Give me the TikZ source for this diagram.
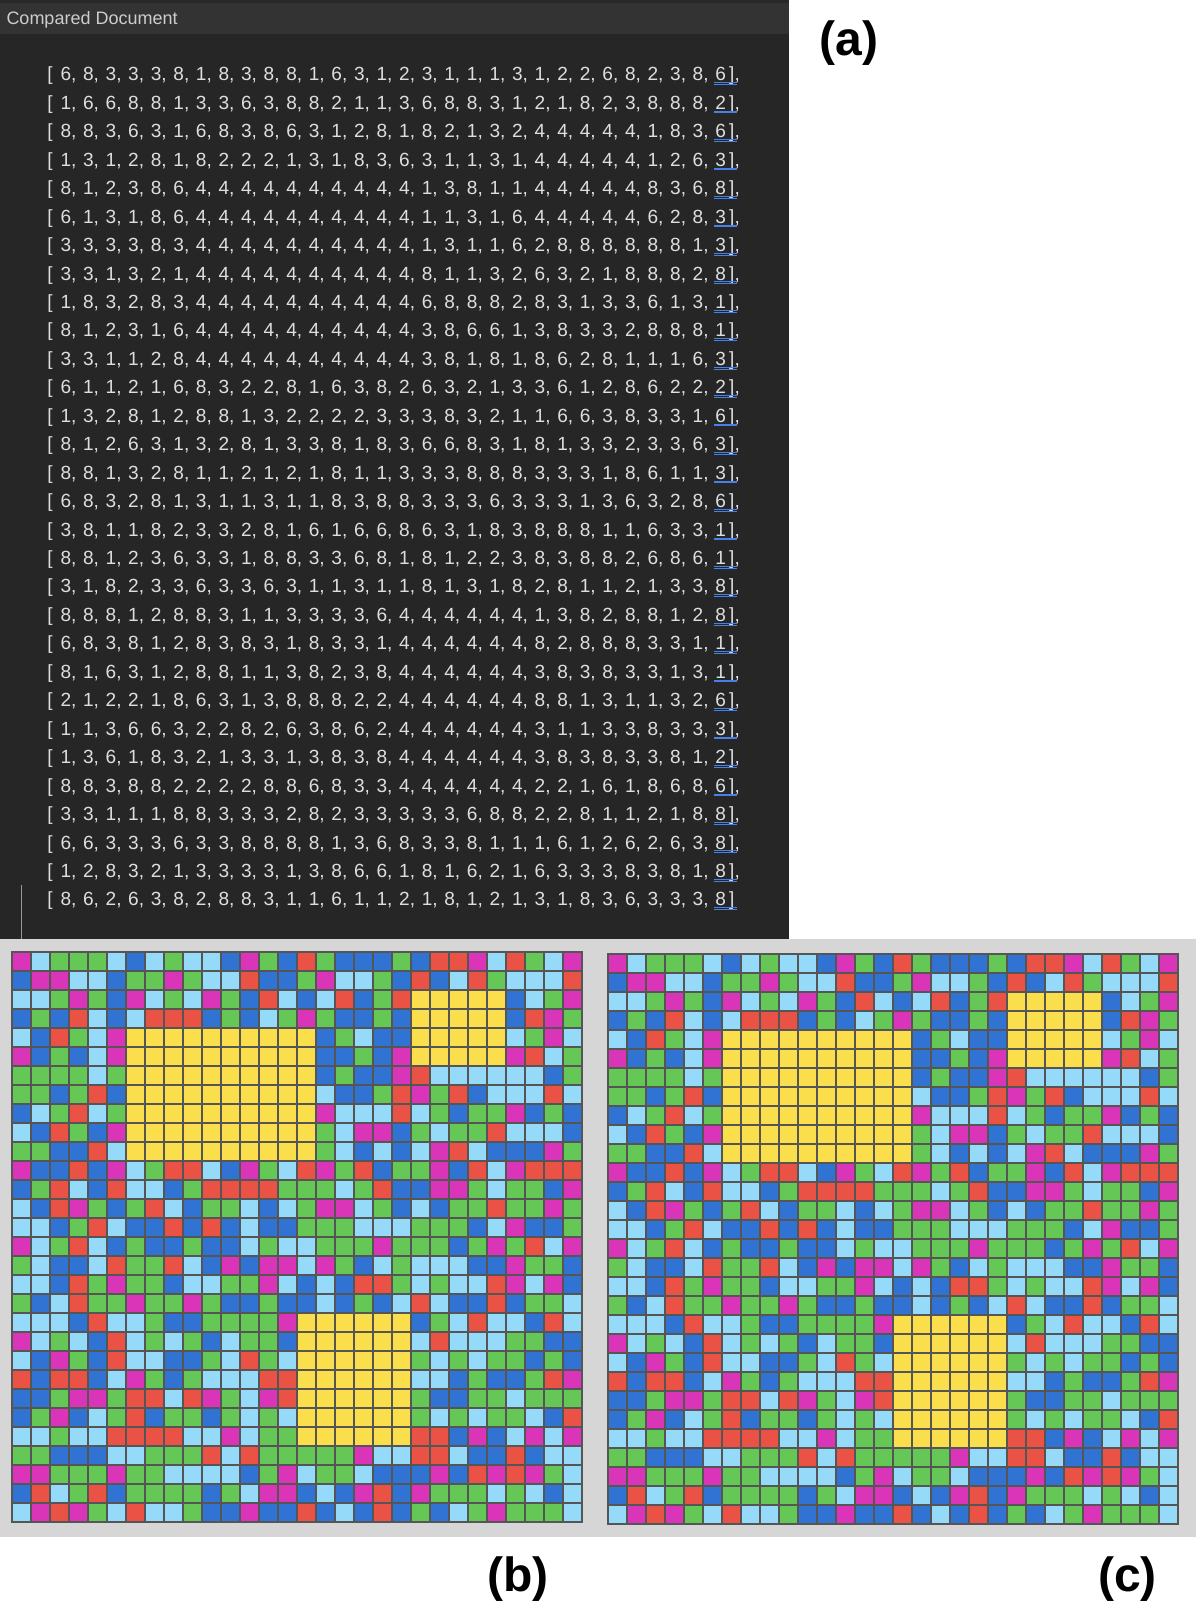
\documentclass[tikz,border=0pt]{standalone}
\usepackage{fontspec}
\setmainfont{Liberation Sans}
\definecolor{c1}{RGB}{49,115,211}
\definecolor{c2}{RGB}{234,82,69}
\definecolor{c3}{RGB}{100,199,86}
\definecolor{c4}{RGB}{250,222,76}
\definecolor{c6}{RGB}{218,52,184}
\definecolor{c8}{RGB}{150,218,250}
\definecolor{panelbody}{RGB}{38,38,38}
\definecolor{panelhead}{RGB}{51,51,51}
\definecolor{paneltop}{RGB}{40,40,40}
\definecolor{bggray}{RGB}{214,214,214}
\definecolor{gridln}{RGB}{85,85,85}
\definecolor{txtcol}{RGB}{222,222,222}
\definecolor{hdrcol}{RGB}{205,205,205}
\definecolor{ulcol}{RGB}{70,130,230}
\def\M{{6,8,3,3,3,8,1,8,3,8,8,1,6,3,1,2,3,1,1,1,3,1,2,2,6,8,2,3,8,6},%
{1,6,6,8,8,1,3,3,6,3,8,8,2,1,1,3,6,8,8,3,1,2,1,8,2,3,8,8,8,2},%
{8,8,3,6,3,1,6,8,3,8,6,3,1,2,8,1,8,2,1,3,2,4,4,4,4,4,1,8,3,6},%
{1,3,1,2,8,1,8,2,2,2,1,3,1,8,3,6,3,1,1,3,1,4,4,4,4,4,1,2,6,3},%
{8,1,2,3,8,6,4,4,4,4,4,4,4,4,4,4,1,3,8,1,1,4,4,4,4,4,8,3,6,8},%
{6,1,3,1,8,6,4,4,4,4,4,4,4,4,4,4,1,1,3,1,6,4,4,4,4,4,6,2,8,3},%
{3,3,3,3,8,3,4,4,4,4,4,4,4,4,4,4,1,3,1,1,6,2,8,8,8,8,8,8,1,3},%
{3,3,1,3,2,1,4,4,4,4,4,4,4,4,4,4,8,1,1,3,2,6,3,2,1,8,8,8,2,8},%
{1,8,3,2,8,3,4,4,4,4,4,4,4,4,4,4,6,8,8,8,2,8,3,1,3,3,6,1,3,1},%
{8,1,2,3,1,6,4,4,4,4,4,4,4,4,4,4,3,8,6,6,1,3,8,3,3,2,8,8,8,1},%
{3,3,1,1,2,8,4,4,4,4,4,4,4,4,4,4,3,8,1,8,1,8,6,2,8,1,1,1,6,3},%
{6,1,1,2,1,6,8,3,2,2,8,1,6,3,8,2,6,3,2,1,3,3,6,1,2,8,6,2,2,2},%
{1,3,2,8,1,2,8,8,1,3,2,2,2,2,3,3,3,8,3,2,1,1,6,6,3,8,3,3,1,6},%
{8,1,2,6,3,1,3,2,8,1,3,3,8,1,8,3,6,6,8,3,1,8,1,3,3,2,3,3,6,3},%
{8,8,1,3,2,8,1,1,2,1,2,1,8,1,1,3,3,3,8,8,8,3,3,3,1,8,6,1,1,3},%
{6,8,3,2,8,1,3,1,1,3,1,1,8,3,8,8,3,3,3,6,3,3,3,1,3,6,3,2,8,6},%
{3,8,1,1,8,2,3,3,2,8,1,6,1,6,6,8,6,3,1,8,3,8,8,8,1,1,6,3,3,1},%
{8,8,1,2,3,6,3,3,1,8,8,3,3,6,8,1,8,1,2,2,3,8,3,8,8,2,6,8,6,1},%
{3,1,8,2,3,3,6,3,3,6,3,1,1,3,1,1,8,1,3,1,8,2,8,1,1,2,1,3,3,8},%
{8,8,8,1,2,8,8,3,1,1,3,3,3,3,6,4,4,4,4,4,4,1,3,8,2,8,8,1,2,8},%
{6,8,3,8,1,2,8,3,8,3,1,8,3,3,1,4,4,4,4,4,4,8,2,8,8,8,3,3,1,1},%
{8,1,6,3,1,2,8,8,1,1,3,8,2,3,8,4,4,4,4,4,4,3,8,3,8,3,3,1,3,1},%
{2,1,2,2,1,8,6,3,1,3,8,8,8,2,2,4,4,4,4,4,4,8,8,1,3,1,1,3,2,6},%
{1,1,3,6,6,3,2,2,8,2,6,3,8,6,2,4,4,4,4,4,4,3,1,1,3,3,8,3,3,3},%
{1,3,6,1,8,3,2,1,3,3,1,3,8,3,8,4,4,4,4,4,4,3,8,3,8,3,3,8,1,2},%
{8,8,3,8,8,2,2,2,2,8,8,6,8,3,3,4,4,4,4,4,4,2,2,1,6,1,8,6,8,6},%
{3,3,1,1,1,8,8,3,3,3,2,8,2,3,3,3,3,3,6,8,8,2,2,8,1,1,2,1,8,8},%
{6,6,3,3,3,6,3,3,8,8,8,8,1,3,6,8,3,3,8,1,1,1,6,1,2,6,2,6,3,8},%
{1,2,8,3,2,1,3,3,3,3,1,3,8,6,6,1,8,1,6,2,1,6,3,3,3,8,3,8,1,8},%
{8,6,2,6,3,8,2,8,8,3,1,1,6,1,1,2,1,8,1,2,1,3,1,8,3,6,3,3,3,8}}
\begin{document}
\begin{tikzpicture}[x=0.75pt,y=-0.75pt,
  cellline/.style={draw=gridln,line width=0.85pt},
  numtxt/.style={inner sep=0pt,outer sep=0pt,anchor=base west,text=txtcol,
    font=\fontsize{14.3}{17}\selectfont},
  hdrtxt/.style={inner sep=0pt,outer sep=0pt,anchor=base west,text=hdrcol,
    font=\fontsize{13.5}{16}\selectfont},
  lbl/.style={inner sep=0pt,outer sep=0pt,anchor=center,text=black,
    font=\fontsize{36}{40}\selectfont\bfseries},
  uline/.style={draw=ulcol,line width=0.65pt},
  cursorln/.style={draw=gray!80,line width=1pt}]
\useasboundingbox (0,0) rectangle (1198,1624);
\fill[white] (0,0) rectangle (1198,1624);
% editor panel
\fill[panelbody] (0,0) rectangle (789,939);
\fill[panelhead] (0,0) rectangle (789,34);
\fill[paneltop] (0,0) rectangle (789,3);
\node[hdrtxt] (hdr) at (6.5,24) {Compared Document};
\coordinate (curA) at (21.4,885);
\coordinate (curB) at (21.4,939);
\draw[cursorln] (curA) -- (curB);
% gray strip for grids
\fill[bggray] (0,939) rectangle (1196,1537);
\foreach \r [count=\i from 0] in \M {
  \pgfmathsetmacro{\yb}{80.85+28.45*\i}
  \node[numtxt] (br-\i) at (47.3,\yb) {[};
  \foreach \v [count=\j from 0] in \r {
    \draw[cellline,fill=c\v] ({12+19*\j},{952+19*\i}) rectangle ++(19,19);
    \draw[cellline,fill=c\v] ({608+19*\j},{954+19*\i}) rectangle ++(19,19);
    \pgfmathsetmacro{\xl}{65.8+22.58*\j-5.3}
    \ifnum\j<29
      \node[numtxt] (n-\i-\j) at (\xl,\yb) {\v,};
    \else
      \ifnum\i<29
        \node[numtxt] (n-\i-\j) at (\xl,\yb) {\v\kern2.5pt],};
      \else
        \node[numtxt] (n-\i-\j) at (\xl,\yb) {\v\kern2.5pt]};
      \fi
      \draw[uline] (714,{\yb+1.9}) -- (737,{\yb+1.9});
      \draw[uline] (714,{\yb+3.6}) -- (737,{\yb+3.6});
    \fi
  }
}
% labels
\node[lbl] (la) at (849,43.5) {(a)};
\node[lbl] (lb) at (517.7,1579) {(b)};
\node[lbl] (lc) at (1127.5,1579) {(c)};
\end{tikzpicture}
\end{document}
